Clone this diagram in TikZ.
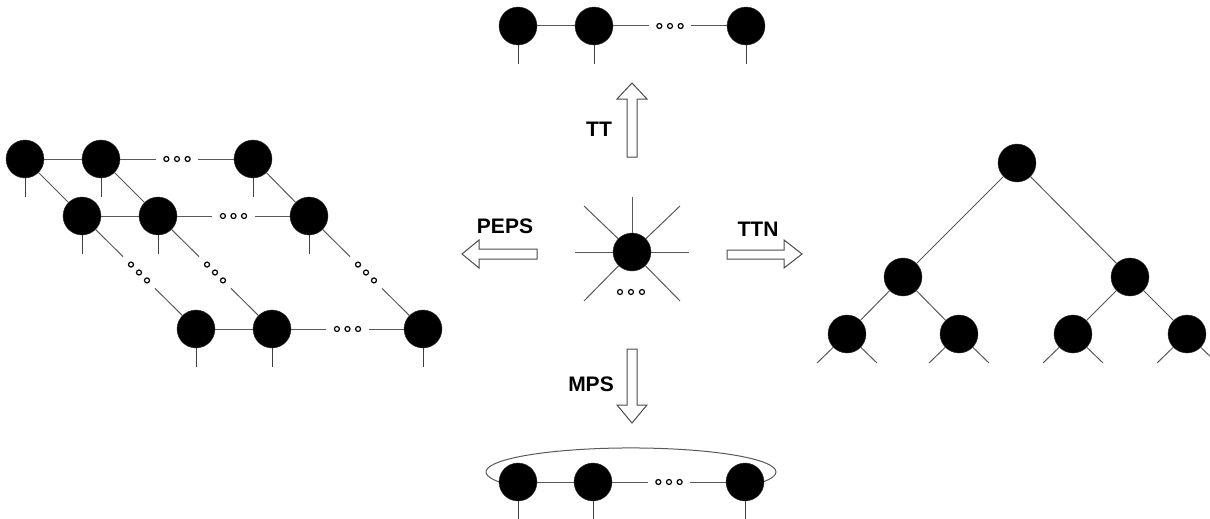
\documentclass[tikz,border=0pt]{standalone}
\usepackage{fontspec}
\setmainfont{Liberation Sans}
\usetikzlibrary{calc}
\tikzset{
 tensor/.style={circle, fill=black, draw=black!80, minimum size=38pt, inner sep=0pt},
 bond/.style={draw=black!65, line width=1pt},
 leg/.style={draw=black!75, line width=1pt},
 dotc/.style={draw=black, line width=1.2pt, fill=white},
 hollow/.style={draw=black!70, line width=1pt, fill=white, line join=miter},
 lab/.style={font=\fontsize{21}{25}\selectfont\bfseries, inner sep=0pt},
}
\newcommand\mybreakbond[2]{%
  \draw[bond] (#1) -- ($(#1)!0.36!(#2)$);
  \draw[bond] ($(#1)!0.64!(#2)$) -- (#2);
  \foreach \t in {0.43,0.5,0.57} \filldraw[dotc] ($(#1)!\t!(#2)$) circle[radius=2.5];
}
\newcommand\myleg[1]{\draw[leg] (#1.south) -- ++(0,19);}
\begin{document}
\begin{tikzpicture}[x=1pt,y=-1pt]
\useasboundingbox (0,0) rectangle (1210,519);

% ---------- top chain (TT)
\node[tensor] (t1) at (518,26) {};
\node[tensor] (t2) at (594,26) {};
\node[tensor] (t3) at (746,26) {};
\draw[bond] (t1) -- (t2);
\mybreakbond{t2}{t3}
\myleg{t1}\myleg{t2}\myleg{t3}

% ---------- centre tensor
\node[tensor] (c) at (632,252) {};
\coordinate (cu) at (632,197);
\coordinate (cl) at (575,252);
\coordinate (cr) at (689,252);
\coordinate (cul) at (584,206);
\coordinate (cur) at (680,206);
\coordinate (cdl) at (584,301);
\coordinate (cdr) at (680,301);
\foreach \e in {cu,cl,cr,cul,cur,cdl,cdr} \draw[bond] (c) -- (\e);
\foreach \x in {620,631,642} \filldraw[dotc] (\x,292) circle[radius=2.5];

% ---------- hollow arrows
\draw[hollow] (627,157) -- (637,157) -- (637,99) -- (647,99) -- (632,83) -- (617,99) -- (627,99) -- cycle;
\draw[hollow] (627,349) -- (637,349) -- (637,405) -- (647,405) -- (632,423) -- (617,405) -- (627,405) -- cycle;
\draw[hollow] (537,249) -- (537,259) -- (479,259) -- (479,268) -- (462,254) -- (479,240) -- (479,249) -- cycle;
\draw[hollow] (727,250) -- (727,259) -- (784,259) -- (784,268) -- (802,254) -- (784,240) -- (784,250) -- cycle;

% ---------- labels
\node[lab] (ltt) at (599,129) {TT};
\node[lab] (lpeps) at (505,226) {PEPS};
\node[lab] (lttn) at (758,229) {TTN};
\node[lab] (lmps) at (591,384) {MPS};

% ---------- bottom chain (MPS, periodic)
\draw[bond] (499.6,482.1) arc[start angle=155, end angle=385, x radius=145, y radius=24];
\node[tensor] (m1) at (518,482) {};
\node[tensor] (m2) at (593,482) {};
\node[tensor] (m3) at (745,482) {};
\draw[bond] (m1) -- (m2);
\mybreakbond{m2}{m3}
\myleg{m1}\myleg{m2}\myleg{m3}

% ---------- PEPS
\node[tensor] (p11) at (25,159) {};
\node[tensor] (p12) at (101,159) {};
\node[tensor] (p13) at (253,159) {};
\node[tensor] (p21) at (82,216) {};
\node[tensor] (p22) at (158,216) {};
\node[tensor] (p23) at (309,216) {};
\node[tensor] (p31) at (196,329) {};
\node[tensor] (p32) at (272,329) {};
\node[tensor] (p33) at (423,329) {};
\draw[bond] (p11) -- (p12);
\draw[bond] (p21) -- (p22);
\draw[bond] (p31) -- (p32);
\mybreakbond{p12}{p13}
\mybreakbond{p22}{p23}
\mybreakbond{p32}{p33}
\draw[bond] (p11) -- (p21);
\draw[bond] (p12) -- (p22);
\draw[bond] (p13) -- (p23);
\mybreakbond{p21}{p31}
\mybreakbond{p22}{p32}
\mybreakbond{p23}{p33}
\foreach \n in {p11,p12,p13,p21,p22,p23,p31,p32,p33} {\myleg{\n}}

% ---------- TTN
\node[tensor] (r) at (1017,163) {};
\node[tensor] (a) at (903,277) {};
\node[tensor] (b) at (1130,277) {};
\node[tensor] (l1) at (847,334) {};
\node[tensor] (l2) at (959,334) {};
\node[tensor] (l3) at (1073,334) {};
\node[tensor] (l4) at (1187,334) {};
\draw[bond] (r) -- (a);
\draw[bond] (r) -- (b);
\draw[bond] (a) -- (l1);
\draw[bond] (a) -- (l2);
\draw[bond] (b) -- (l3);
\draw[bond] (b) -- (l4);
\foreach \n in {l1,l2,l3,l4} {
  \draw[bond] (\n) -- ($(\n)+(-30,29)$);
  \draw[bond] (\n) -- ($(\n)+(30,29)$);
}
\end{tikzpicture}
\end{document}
